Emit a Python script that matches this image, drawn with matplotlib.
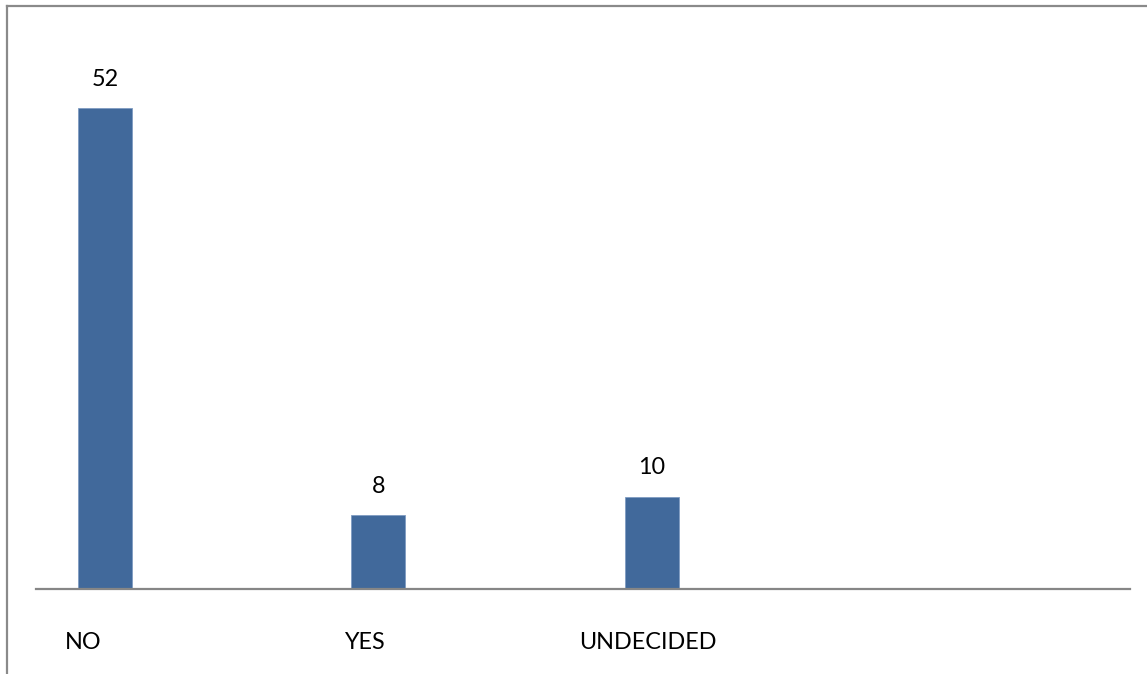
import matplotlib
matplotlib.use("Agg")
import matplotlib.pyplot as plt
from matplotlib.lines import Line2D
from matplotlib.transforms import ScaledTranslation

categories = ["NO", "YES", "UNDECIDED"]
values = [52, 8, 10]
label_shift_px = [-22, -14, -4]

W, H = 1147, 674
DPI = 100
fig = plt.figure(figsize=(W / DPI, H / DPI), dpi=DPI)
fig.patch.set_facecolor("white")

# axes: x from 36 to 1130 px, baseline at y=589 px, top at 34 px
left, right = 36, 1130
bottom, top = 589, 34
ax = fig.add_axes([left / W, 1 - bottom / H, (right - left) / W, (bottom - top) / H])

FONT = "Lato"
FS = 16.8

xs = list(range(len(categories)))
ax.bar(xs, values, width=0.197, color="#41699B", edgecolor="#7F9CC2", linewidth=0.6, zorder=2)
ax.set_xlim(-0.252, 3.748)
ax.set_ylim(0, 60)

for x, v in zip(xs, values):
    ax.annotate(str(v), (x, v), xytext=(0, 13), textcoords="offset points",
                ha="center", va="bottom", fontsize=FS, family=FONT, color="black")

for spine in ["top", "right", "left"]:
    ax.spines[spine].set_visible(False)
ax.spines["bottom"].set_color("#868686")
ax.spines["bottom"].set_linewidth(1.6)
ax.set_yticks([])
ax.set_xticks(xs)
ax.set_xticklabels(categories, fontsize=FS, family=FONT, color="black")
ax.tick_params(axis="x", length=0, pad=31)
for lab, s in zip(ax.get_xticklabels(), label_shift_px):
    lab.set_transform(lab.get_transform() + ScaledTranslation(s / DPI, 0, fig.dpi_scale_trans))

# outer border (left and top)
fig.add_artist(Line2D([7.5 / W, 7.5 / W], [0, 1 - 5.5 / H], transform=fig.transFigure,
                      color="#8A8A8A", linewidth=1.6))
fig.add_artist(Line2D([7.5 / W, 1.0], [1 - 5.5 / H, 1 - 5.5 / H], transform=fig.transFigure,
                      color="#8A8A8A", linewidth=1.6))

fig.savefig("out.png", dpi=DPI)
